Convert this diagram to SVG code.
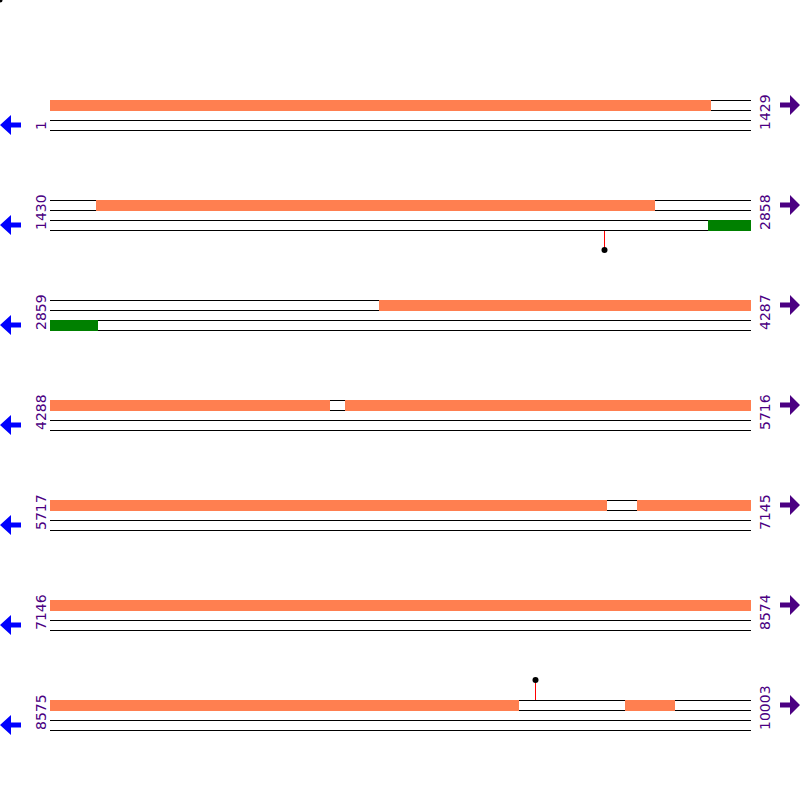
<svg xmlns="http://www.w3.org/2000/svg" width="800" height="800" viewBox="0 0 800 800">
<style>
.ln{stroke:#000;stroke-width:1;fill:none}
.or{fill:#FF7F50}
.gr{fill:#008000}
.lbl{font-family:"DejaVu Sans",sans-serif;font-size:14px;fill:#4B0082}
.la{fill:#0000FF}
.ra{fill:#4B0082}
.pin{stroke:#FF0000;stroke-width:1}
</style>
<defs>
<g id="strands">
<line class="ln" x1="50" y1="0.5" x2="751" y2="0.5"/>
<line class="ln" x1="50" y1="10.5" x2="751" y2="10.5"/>
<line class="ln" x1="50" y1="20.5" x2="751" y2="20.5"/>
<line class="ln" x1="50" y1="30.5" x2="751" y2="30.5"/>
<polygon class="la" points="0,25 11,15 11,22.5 21,22.5 21,27.5 11,27.5 11,35"/>
<polygon class="ra" points="800,5 790,-5 790,2.5 780,2.5 780,7.5 790,7.5 790,15"/>
</g>
</defs>
<circle cx="0" cy="0" r="2.5" fill="#000"/>
<g id="row1" transform="translate(0,100)">
<use href="#strands"/>
<rect class="or" x="50" y="0" width="661" height="11"/>
<text class="lbl" transform="translate(46,30) rotate(-90)">1</text>
<text class="lbl" transform="translate(770,30) rotate(-90)">1429</text>
</g>
<g id="row2" transform="translate(0,200)">
<use href="#strands"/>
<rect class="or" x="96" y="0" width="559" height="11"/>
<rect class="gr" x="708" y="20" width="43" height="11"/>
<text class="lbl" transform="translate(46,30) rotate(-90)">1430</text>
<text class="lbl" transform="translate(770,30) rotate(-90)">2858</text>
</g>
<g id="row3" transform="translate(0,300)">
<use href="#strands"/>
<rect class="or" x="379" y="0" width="372" height="11"/>
<rect class="gr" x="50" y="20" width="48" height="11"/>
<text class="lbl" transform="translate(46,30) rotate(-90)">2859</text>
<text class="lbl" transform="translate(770,30) rotate(-90)">4287</text>
</g>
<g id="row4" transform="translate(0,400)">
<use href="#strands"/>
<rect class="or" x="50" y="0" width="280" height="11"/>
<rect class="or" x="345" y="0" width="406" height="11"/>
<text class="lbl" transform="translate(46,30) rotate(-90)">4288</text>
<text class="lbl" transform="translate(770,30) rotate(-90)">5716</text>
</g>
<g id="row5" transform="translate(0,500)">
<use href="#strands"/>
<rect class="or" x="50" y="0" width="557" height="11"/>
<rect class="or" x="637" y="0" width="114" height="11"/>
<text class="lbl" transform="translate(46,30) rotate(-90)">5717</text>
<text class="lbl" transform="translate(770,30) rotate(-90)">7145</text>
</g>
<g id="row6" transform="translate(0,600)">
<use href="#strands"/>
<rect class="or" x="50" y="0" width="701" height="11"/>
<text class="lbl" transform="translate(46,30) rotate(-90)">7146</text>
<text class="lbl" transform="translate(770,30) rotate(-90)">8574</text>
</g>
<g id="row7" transform="translate(0,700)">
<use href="#strands"/>
<rect class="or" x="50" y="0" width="469" height="11"/>
<rect class="or" x="625" y="0" width="50" height="11"/>
<text class="lbl" transform="translate(46,30) rotate(-90)">8575</text>
<text class="lbl" transform="translate(770,30) rotate(-90)">10003</text>
</g>
<g id="connectors">
<line class="pin" x1="604.5" y1="231" x2="604.5" y2="250"/>
<circle cx="604.5" cy="250" r="3" fill="#000"/>
<line class="pin" x1="535.5" y1="700" x2="535.5" y2="680"/>
<circle cx="535.5" cy="680" r="3" fill="#000"/>
</g>
</svg>
